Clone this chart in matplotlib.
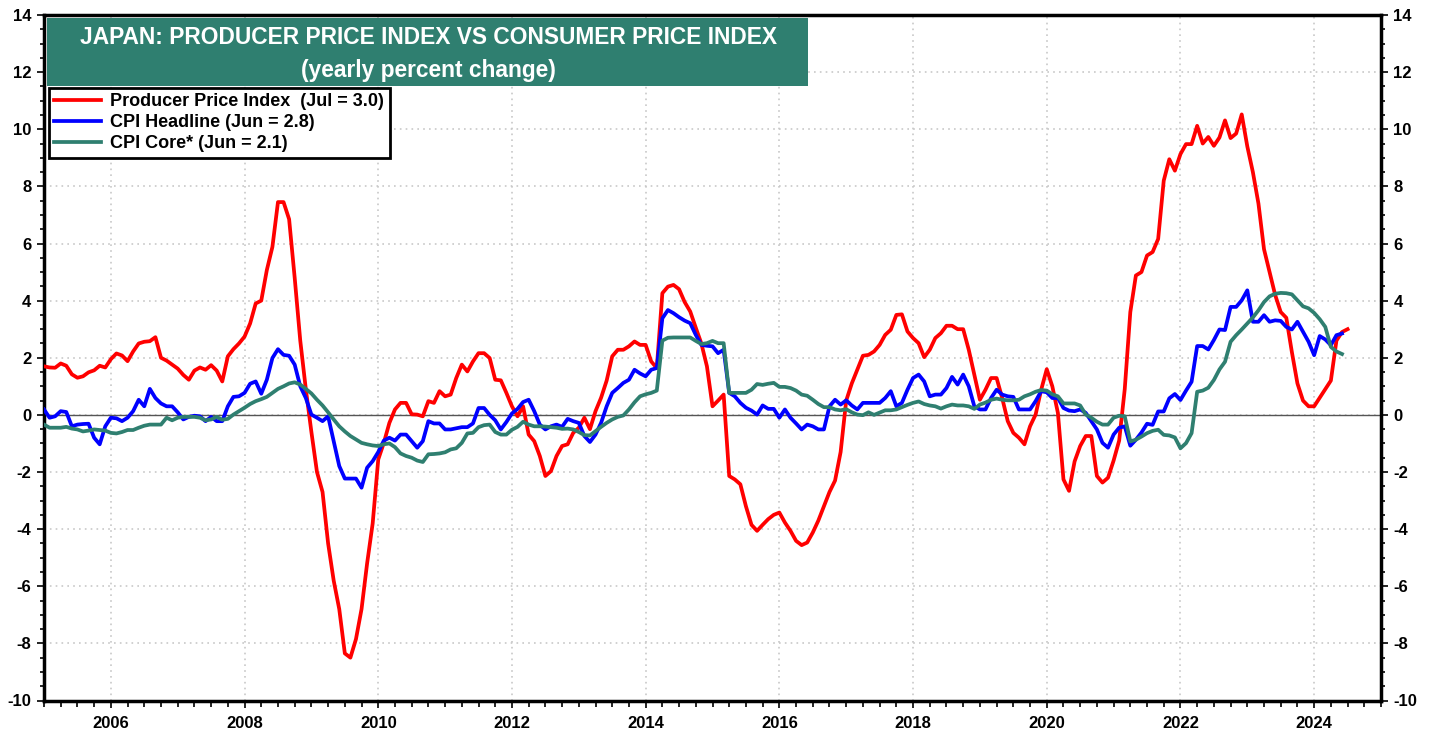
import numpy as np
import matplotlib
matplotlib.use("Agg")
from matplotlib import pyplot as plt
from matplotlib.patches import Rectangle
from matplotlib.ticker import MultipleLocator

###############################################################################
# Monthly data, Jan 2005 onwards (yearly percent change)
#

ppi = [
    1.70, 1.66, 1.65, 1.80, 1.72, 1.42, 1.30, 1.35, 1.49, 1.56, 1.72, 1.66,   # 2005
    1.95, 2.15, 2.08, 1.88, 2.22, 2.50, 2.56, 2.58, 2.72, 2.00, 1.90, 1.76,   # 2006
    1.62, 1.40, 1.23, 1.55, 1.66, 1.58, 1.74, 1.55, 1.17, 2.05, 2.30, 2.50,   # 2007
    2.74, 3.20, 3.90, 4.00, 5.07, 5.88, 7.45, 7.45, 6.85, 4.80, 2.60, 0.90,   # 2008
    -0.60, -2.00, -2.70, -4.50, -5.80, -6.80, -8.35, -8.50, -7.85, -6.80, -5.20, -3.80,  # 2009
    -1.56, -0.98, -0.28, 0.19, 0.42, 0.42, 0.02, 0.01, -0.05, 0.48, 0.42, 0.83,  # 2010
    0.65, 0.71, 1.29, 1.76, 1.52, 1.87, 2.16, 2.16, 1.99, 1.23, 1.21, 0.77,   # 2011
    0.30, -0.05, 0.30, -0.69, -0.92, -1.44, -2.14, -1.97, -1.44, -1.09, -1.03, -0.63,  # 2012
    -0.45, -0.10, -0.50, 0.13, 0.60, 1.20, 2.05, 2.28, 2.28, 2.40, 2.57, 2.45,  # 2013
    2.45, 1.87, 1.64, 4.26, 4.49, 4.55, 4.40, 3.95, 3.62, 3.05, 2.50, 1.70,   # 2014
    0.30, 0.50, 0.71, -2.14, -2.26, -2.43, -3.20, -3.85, -4.06, -3.85, -3.65, -3.50,  # 2015
    -3.42, -3.77, -4.06, -4.41, -4.56, -4.47, -4.12, -3.70, -3.20, -2.70, -2.30, -1.30,  # 2016
    0.50, 1.10, 1.58, 2.07, 2.10, 2.22, 2.45, 2.80, 2.98, 3.50, 3.52, 2.92,   # 2017
    2.69, 2.51, 2.02, 2.28, 2.69, 2.86, 3.12, 3.12, 3.00, 3.00, 2.28, 1.41,   # 2018
    0.53, 0.88, 1.29, 1.29, 0.59, -0.22, -0.63, -0.80, -1.03, -0.40, 0.01, 0.88,  # 2019
    1.60, 1.00, 0.07, -2.26, -2.66, -1.63, -1.09, -0.74, -0.74, -2.14, -2.37, -2.20,  # 2020
    -1.60, -0.90, 0.90, 3.60, 4.88, 5.00, 5.58, 5.70, 6.16, 8.20, 8.95, 8.55,  # 2021
    9.13, 9.48, 9.48, 10.12, 9.50, 9.73, 9.42, 9.71, 10.31, 9.69, 9.85, 10.52,  # 2022
    9.40, 8.50, 7.40, 5.80, 5.00, 4.20, 3.60, 3.40, 2.20, 1.10, 0.50, 0.30,   # 2023
    0.30, 0.60, 0.90, 1.20, 2.60, 2.90, 3.00,                                 # 2024 (to Jul)
]

cpi_headline = [
    0.19, -0.10, -0.05, 0.13, 0.10, -0.40, -0.34, -0.32, -0.31, -0.80, -1.03, -0.40,  # 2005
    -0.10, -0.12, -0.22, -0.10, 0.13, 0.53, 0.30, 0.91, 0.59, 0.40, 0.30, 0.30,  # 2006
    0.09, -0.16, -0.07, -0.03, -0.05, -0.22, -0.07, -0.22, -0.22, 0.30, 0.63, 0.65,  # 2007
    0.77, 1.09, 1.17, 0.74, 1.23, 1.99, 2.30, 2.10, 2.07, 1.76, 1.00, 0.59,   # 2008
    0.01, -0.10, -0.22, -0.05, -0.92, -1.79, -2.23, -2.23, -2.23, -2.55, -1.85, -1.62,  # 2009
    -1.30, -0.90, -0.80, -0.90, -0.69, -0.69, -0.92, -1.15, -0.92, -0.22, -0.30, -0.30,  # 2010
    -0.51, -0.51, -0.47, -0.43, -0.43, -0.30, 0.24, 0.24, 0.00, -0.19, -0.51, -0.25,  # 2011
    0.05, 0.21, 0.45, 0.53, 0.13, -0.34, -0.51, -0.40, -0.34, -0.42, -0.14, -0.22,  # 2012
    -0.28, -0.74, -0.95, -0.69, -0.28, 0.30, 0.77, 0.94, 1.12, 1.23, 1.58, 1.45,  # 2013
    1.35, 1.58, 1.64, 3.38, 3.67, 3.56, 3.42, 3.30, 3.21, 2.80, 2.45, 2.42,   # 2014
    2.40, 2.16, 2.28, 0.77, 0.65, 0.42, 0.25, 0.15, 0.01, 0.33, 0.21, 0.21,   # 2015
    -0.10, 0.19, -0.10, -0.30, -0.51, -0.34, -0.40, -0.51, -0.51, 0.30, 0.53, 0.36,  # 2016
    0.51, 0.33, 0.19, 0.42, 0.42, 0.42, 0.42, 0.59, 0.83, 0.30, 0.42, 0.88,   # 2017
    1.29, 1.41, 1.17, 0.65, 0.71, 0.71, 0.94, 1.33, 1.06, 1.41, 1.00, 0.30,   # 2018
    0.19, 0.19, 0.59, 0.88, 0.71, 0.65, 0.63, 0.19, 0.19, 0.19, 0.48, 0.83,   # 2019
    0.79, 0.59, 0.59, 0.24, 0.15, 0.13, 0.19, 0.07, -0.22, -0.51, -0.98, -1.15,  # 2020
    -0.69, -0.45, -0.40, -1.08, -0.87, -0.62, -0.31, -0.35, 0.12, 0.12, 0.58, 0.73,  # 2021
    0.52, 0.85, 1.16, 2.41, 2.41, 2.29, 2.62, 2.99, 2.97, 3.78, 3.78, 4.01,   # 2022
    4.36, 3.26, 3.26, 3.49, 3.26, 3.31, 3.29, 3.08, 2.99, 3.26, 2.91, 2.56,   # 2023
    2.09, 2.76, 2.64, 2.44, 2.79, 2.85,                                       # 2024 (to Jun)
]

cpi_core = [
    -0.34, -0.45, -0.45, -0.45, -0.42, -0.48, -0.51, -0.58, -0.55, -0.51, -0.53, -0.55,  # 2005
    -0.63, -0.65, -0.60, -0.53, -0.53, -0.45, -0.38, -0.34, -0.34, -0.34, -0.10, -0.19,  # 2006
    -0.10, -0.07, -0.07, -0.07, -0.10, -0.19, -0.16, -0.07, -0.17, -0.14, 0.01, 0.13,  # 2007
    0.25, 0.38, 0.48, 0.55, 0.63, 0.77, 0.91, 1.00, 1.10, 1.14, 1.06, 0.91,   # 2008
    0.75, 0.53, 0.33, 0.09, -0.16, -0.40, -0.58, -0.74, -0.86, -0.98, -1.03, -1.07,  # 2009
    -1.09, -1.03, -1.00, -1.13, -1.35, -1.44, -1.50, -1.60, -1.65, -1.38, -1.37, -1.35,  # 2010
    -1.31, -1.21, -1.17, -0.98, -0.65, -0.63, -0.43, -0.36, -0.34, -0.60, -0.69, -0.69,  # 2011
    -0.52, -0.42, -0.24, -0.34, -0.40, -0.40, -0.41, -0.43, -0.45, -0.49, -0.48, -0.51,  # 2012
    -0.60, -0.71, -0.72, -0.57, -0.42, -0.28, -0.16, -0.07, -0.02, 0.19, 0.44, 0.65,  # 2013
    0.72, 0.77, 0.85, 2.60, 2.70, 2.71, 2.71, 2.71, 2.71, 2.59, 2.48, 2.51,   # 2014
    2.59, 2.51, 2.51, 0.77, 0.77, 0.77, 0.77, 0.88, 1.08, 1.05, 1.09, 1.12,   # 2015
    0.98, 0.98, 0.94, 0.85, 0.71, 0.67, 0.53, 0.38, 0.27, 0.27, 0.19, 0.16,   # 2016
    0.20, 0.09, 0.01, -0.01, 0.09, 0.00, 0.08, 0.16, 0.16, 0.19, 0.27, 0.35,  # 2017
    0.42, 0.47, 0.38, 0.33, 0.30, 0.22, 0.30, 0.36, 0.33, 0.33, 0.30, 0.21,   # 2018
    0.36, 0.43, 0.53, 0.57, 0.53, 0.51, 0.51, 0.53, 0.65, 0.72, 0.81, 0.87,   # 2019
    0.85, 0.72, 0.65, 0.40, 0.40, 0.40, 0.33, 0.01, -0.10, -0.24, -0.34, -0.34,  # 2020
    -0.10, -0.03, -0.05, -0.93, -0.87, -0.76, -0.64, -0.56, -0.52, -0.70, -0.72, -0.79,  # 2021
    -1.17, -0.99, -0.64, 0.81, 0.85, 0.95, 1.22, 1.59, 1.86, 2.56, 2.79, 2.99,  # 2022
    3.20, 3.41, 3.66, 3.95, 4.15, 4.24, 4.27, 4.26, 4.22, 4.01, 3.80, 3.73,   # 2023
    3.57, 3.35, 3.08, 2.38, 2.22, 2.13,                                       # 2024 (to Jun)
]

start_year = 2005
labels = ['Producer Price Index  (Jul = 3.0)',
          'CPI Headline (Jun = 2.8)',
          'CPI Core* (Jun = 2.1)']
title_1 = 'JAPAN: PRODUCER PRICE INDEX VS CONSUMER PRICE INDEX'
title_2 = '(yearly percent change)'

RED, BLUE, TEAL = '#FF0000', '#0000FF', '#2F7F70'

###############################################################################
# Figure
#

plt.rcParams['font.family'] = ['Liberation Sans', 'DejaVu Sans']
plt.rcParams['font.weight'] = 'bold'
plt.rcParams['axes.unicode_minus'] = False

W, H = 1438, 731
fig = plt.figure(figsize=(W / 100, H / 100), dpi=100)
ax = fig.add_axes([44 / W, (H - 700.5) / H, (1381 - 44) / W, (700.5 - 15) / H])

def months(series):
    return start_year + np.arange(len(series)) / 12.0

ax.plot(months(ppi), ppi, color=RED, lw=2.7, label=labels[0], zorder=3)
ax.plot(months(cpi_headline), cpi_headline, color=BLUE, lw=2.7, label=labels[1], zorder=3)
ax.plot(months(cpi_core), cpi_core, color=TEAL, lw=2.7, label=labels[2], zorder=3)
ax.axhline(0, color='#555555', lw=1.0, zorder=2)

ax.set_xlim(2005, 2025)
ax.set_ylim(-10, 14)

ax.xaxis.set_major_locator(MultipleLocator(2))
ax.xaxis.set_minor_locator(MultipleLocator(0.25))
ax.yaxis.set_major_locator(MultipleLocator(2))
ax.yaxis.set_minor_locator(MultipleLocator(0.5))
ax.xaxis.set_major_formatter(plt.FuncFormatter(lambda v, p: '%d' % v))

ax.grid(True, which='major', color='#C8C8C8', lw=1.2, linestyle=(0, (1, 2.5)), zorder=1)
ax.set_axisbelow(True)

for side in ax.spines.values():
    side.set_linewidth(2.5)

ax.tick_params(axis='both', which='both', direction='out', width=1.2,
               labelsize=12, right=True, labelright=True)
ax.tick_params(axis='y', which='major', length=5, pad=4)
ax.tick_params(axis='y', which='minor', length=3)
ax.tick_params(axis='x', which='major', length=5, pad=6)
ax.tick_params(axis='x', which='minor', length=4)
for t in ax.get_xticklabels() + ax.get_yticklabels():
    t.set_fontweight('bold')

# title box
ax.add_patch(Rectangle((3 / 1337, 1 - 71 / 685.5), 761 / 1337, 68 / 685.5,
                       transform=ax.transAxes, facecolor=TEAL, edgecolor='none',
                       zorder=5, clip_on=False))
ax.text(384 / 1337, 1 - 23 / 685.5, title_1, transform=ax.transAxes, color='white',
        fontsize=16.4, fontweight='bold', ha='center', va='center', zorder=6)
ax.text(384 / 1337, 1 - 55 / 685.5, title_2, transform=ax.transAxes, color='white',
        fontsize=16.4, fontweight='bold', ha='center', va='center', zorder=6)

leg = ax.legend(loc='upper left', bbox_to_anchor=(5 / 1337, 1 - 73 / 685.5),
                borderaxespad=0, fancybox=False, framealpha=1, edgecolor='black',
                handlelength=2.6, handletextpad=0.5,
                labelspacing=0.22, borderpad=0.3,
                prop={'weight': 'bold', 'size': 13})
leg.get_frame().set_linewidth(2)
leg.set_zorder(6)

fig.savefig('out.png', dpi=100)
